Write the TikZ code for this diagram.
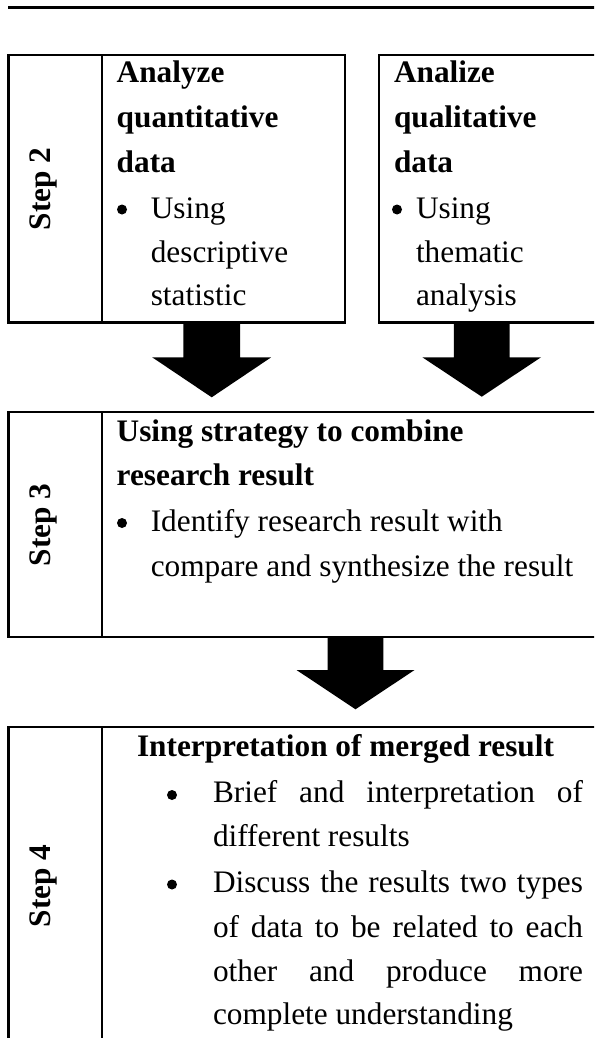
\documentclass[tikz,border=0pt]{standalone}
\usepackage{fontspec}
\setmainfont{Liberation Serif}
\begin{document}
\begin{tikzpicture}[x=1pt,y=-1pt,
  every node/.style={inner sep=0pt, outer sep=0pt, font=\fontsize{31.3pt}{44.5pt}\selectfont},
  boxframe/.style={draw, line width=2.4pt, rectangle, anchor=north west},
  txt/.style={anchor=base west},
  bold/.style={anchor=base west, font=\fontsize{31.3pt}{44.5pt}\selectfont\bfseries},
  steplabel/.style={rotate=90, font=\fontsize{31.3pt}{44.5pt}\selectfont\bfseries},
  divider/.style={line width=2.4pt},
  blockarrow/.style={fill=black},
  bul/.style={fill=black}]
\clip (0,0) rectangle (594,1038);
% top rule
\coordinate (ruleL) at (8.3,7.5);
\coordinate (ruleR) at (600,7.5);
\draw[line width=2.8pt] (ruleL) -- (ruleR);

% boxes
\node[boxframe, minimum width=336.4pt, minimum height=267.5pt] (s2) at (8.3,55) {};
\node[boxframe, minimum width=230pt, minimum height=267.5pt] (q2) at (379,55) {};
\node[boxframe, minimum width=600pt, minimum height=225pt] (s3) at (8.3,411.7) {};
\node[boxframe, minimum width=600pt, minimum height=330pt] (s4) at (8.3,727) {};
\draw[divider] (101.7,55) -- (101.7,322.5);
\draw[divider] (101.7,411.7) -- (101.7,636.7);
\draw[divider] (101.7,727) -- (101.7,1060);

% block arrows
\fill[blockarrow] (183.4,322.5) -- (240,322.5) -- (240,357.3) -- (271.2,357.3) -- (211.7,397.3) -- (152.2,357.3) -- (183.4,357.3) -- cycle;
\fill[blockarrow] (453.9,322.5) -- (509.5,322.5) -- (509.5,357.3) -- (541,357.3) -- (481.7,396.7) -- (422.4,357.3) -- (453.9,357.3) -- cycle;
\fill[blockarrow] (327.7,636.7) -- (383.3,636.7) -- (383.3,670) -- (414.5,670) -- (355.5,709.3) -- (296.5,670) -- (327.7,670) -- cycle;

% step labels
\node[steplabel] (l2) at (43.6,189) {Step 2};
\node[steplabel] (l3) at (43.6,525) {Step 3};
\node[steplabel] (l4) at (43.6,886) {Step 4};

% step 2 text
\node[bold] (a1) at (116.7,83) {Analyze};
\node[bold] (a2) at (116.7,127.5) {quantitative};
\node[bold] (a3) at (116.7,172) {data};
\fill[bul] (122,209.5) circle (5pt);
\node[txt] (a4) at (150.8,218.3) {Using};
\node[txt] (a5) at (150.8,262.3) {descriptive};
\node[txt] (a6) at (150.8,305.5) {statistic};

% qualitative text
\node[bold] (b1) at (394,83) {Analize};
\node[bold] (b2) at (394,127.5) {qualitative};
\node[bold] (b3) at (394,172) {data};
\fill[bul] (397,209.5) circle (5pt);
\node[txt] (b4) at (416,218.3) {Using};
\node[txt] (b5) at (416,262.3) {thematic};
\node[txt] (b6) at (416,305.5) {analysis};

% step 3 text
\node[bold] (c1) at (116.7,441.7) {Using strategy to combine};
\node[bold] (c2) at (116.7,485.5) {research result};
\fill[bul] (122,523) circle (5pt);
\node[txt] (c3) at (150.8,531.7) {Identify research result with};
\node[txt] (c4) at (150.8,576.5) {compare and synthesize the result};

% step 4 text
\node[bold] (d1) at (137,756) {Interpretation of merged result};
\fill[bul] (172,795) circle (5pt);
\node[txt] (d2) at (213,802) {\makebox[370pt][s]{Brief\hfill and\hfill interpretation\hfill of}};
\node[txt] (d3) at (213,846.5) {different results};
\fill[bul] (172,884.5) circle (5pt);
\node[txt] (d4) at (213,892.5) {\makebox[370pt][s]{Discuss\hfill the\hfill results\hfill two\hfill types}};
\node[txt] (d5) at (213,937) {\makebox[370pt][s]{of\hfill data\hfill to\hfill be\hfill related\hfill to\hfill each}};
\node[txt] (d6) at (213,981.5) {\makebox[370pt][s]{other\hfill and\hfill produce\hfill more}};
\node[txt] (d7) at (213,1024) {complete understanding};
\end{tikzpicture}
\end{document}
